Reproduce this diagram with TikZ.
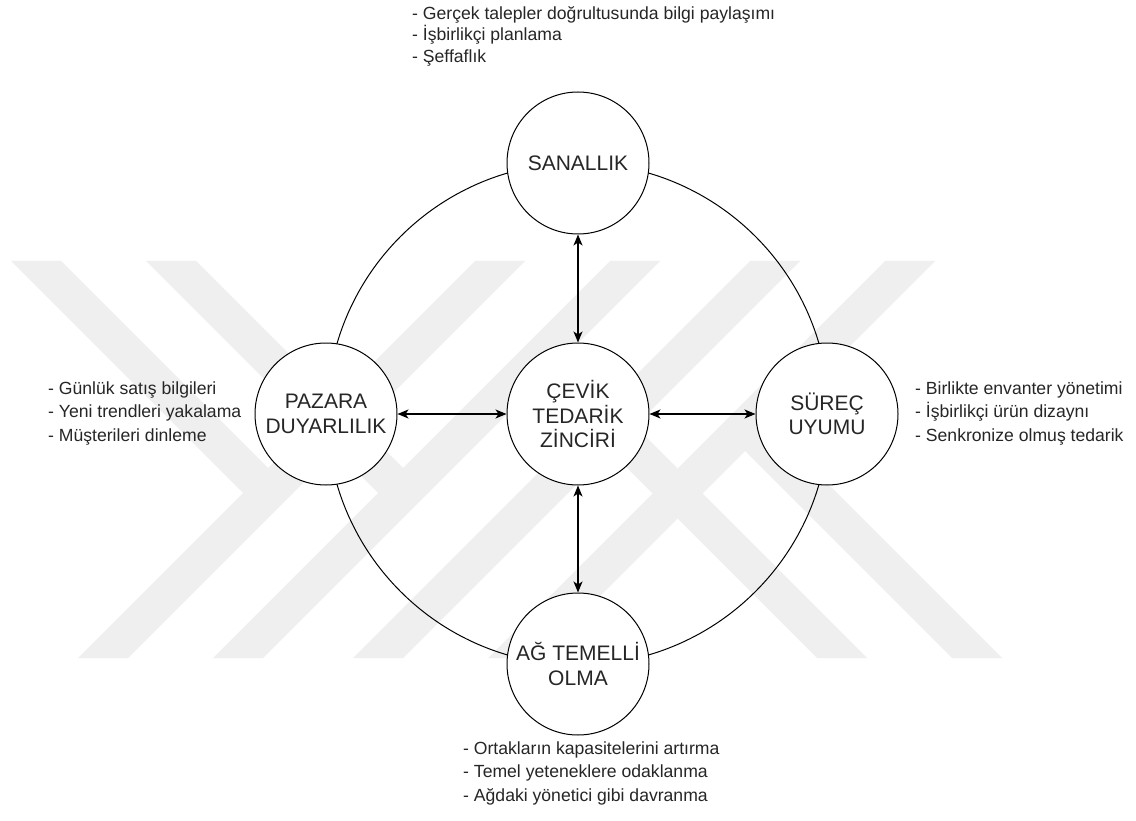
\documentclass[tikz,border=0pt]{standalone}
\usepackage{fontspec}
\setmainfont{Liberation Sans}
\usetikzlibrary{arrows.meta}
\definecolor{wm}{HTML}{EFEFEF}
\definecolor{txt}{HTML}{262626}
\begin{document}
\begin{tikzpicture}[x=1pt,y=-1pt,
  bubble/.style={circle, draw=black, line width=1pt, fill=white, minimum size=142pt, inner sep=0pt, align=center, text=txt, font=\fontsize{21}{24.5}\selectfont},
  biarrow/.style={line width=1.3pt, {Stealth[length=11pt,width=9pt,inset=3pt]}-{Stealth[length=11pt,width=9pt,inset=3pt]}},
  bullets/.style={anchor=west, align=left, inner sep=0pt, text=txt, font=\fontsize{17.6}{23.5}\selectfont},
  ring/.style={draw=black, line width=1pt},
  wmstripe/.style={fill=wm}
]
\path[use as bounding box] (0,0) rectangle (1136,821);
\fill[white] (0,0) rectangle (1136,821);
% watermark: full "/" stripes
\foreach \t in {475,610,750,885} \fill[wmstripe] (\t,261) -- ++(50,0) -- ++(-397,397) -- ++(-50,0) -- cycle;
% upper "\" arms (left chevrons)
\foreach \s in {11,146} \fill[wmstripe] (\s,261) -- ++(50,0) -- ++(232,232) -- ++(-50,0) -- cycle;
% lower "\" arms (right chevrons)
\foreach \b in {817,952} \fill[wmstripe] (\b,658) -- ++(50,0) -- ++(-232,-232) -- ++(-50,0) -- cycle;
% outer ring
\coordinate (o) at (578,414);
\draw[ring] (o) circle[radius=251pt];
% circles
\node[bubble] (cev) at (578,414) {ÇEVİK\\TEDARİK\\ZİNCİRİ};
\node[bubble] (san) at (578,163) {SANALLIK};
\node[bubble] (paz) at (326,414) {PAZARA\\DUYARLILIK};
\node[bubble] (sur) at (827,414) {SÜREÇ\\UYUMU};
\node[bubble] (ag) at (578,664) {AĞ TEMELLİ\\OLMA};
% arrows
\draw[biarrow] (san) -- (cev);
\draw[biarrow] (paz) -- (cev);
\draw[biarrow] (cev) -- (sur);
\draw[biarrow] (cev) -- (ag);
% bullet texts
\node[bullets, font=\fontsize{17.6}{21.5}\selectfont] (ttop) at (412,36) {- Gerçek talepler doğrultusunda bilgi paylaşımı\\- İşbirlikçi planlama\\- Şeffaflık};
\node[bullets] (tleft) at (48,413) {- Günlük satış bilgileri\\- Yeni trendleri yakalama\\- Müşterileri dinleme};
\node[bullets] (tright) at (915,413) {- Birlikte envanter yönetimi\\- İşbirlikçi ürün dizaynı\\- Senkronize olmuş tedarik};
\node[bullets] (tbot) at (463,773) {- Ortakların kapasitelerini artırma\\- Temel yeteneklere odaklanma\\- Ağdaki yönetici gibi davranma};
\end{tikzpicture}
\end{document}
